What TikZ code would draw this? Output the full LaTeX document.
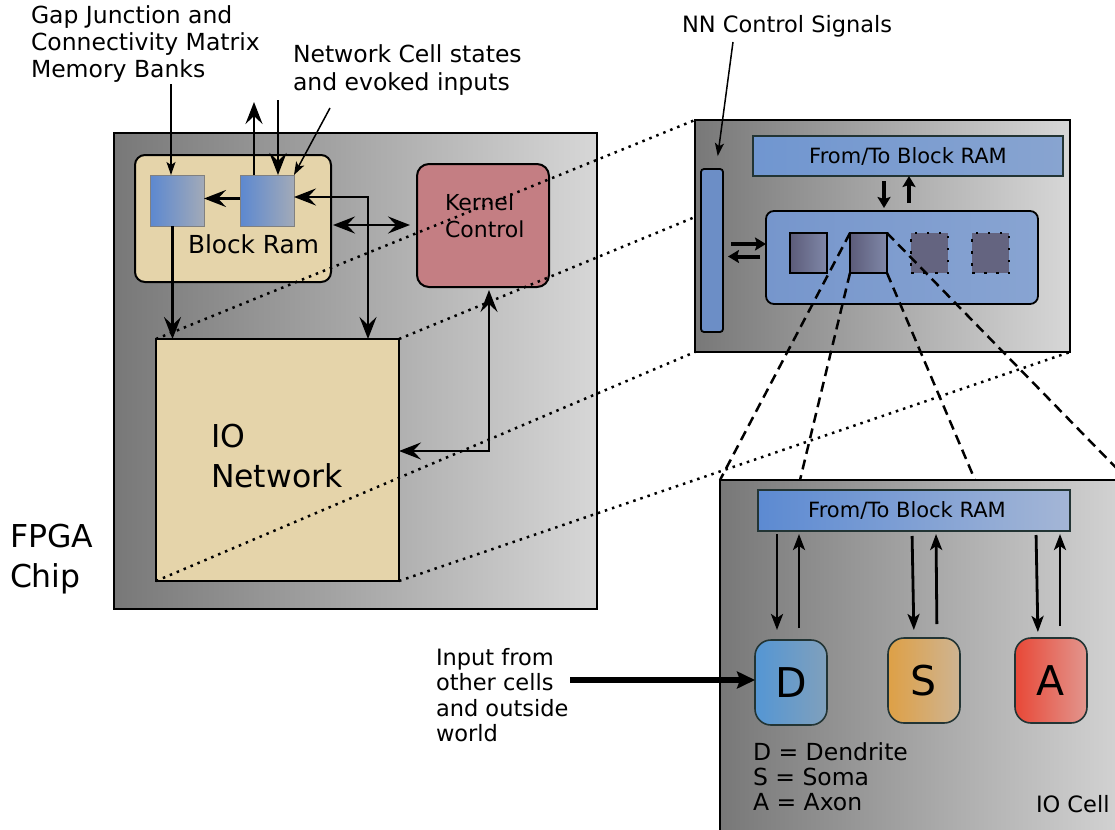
\documentclass[tikz,border=0pt]{standalone}
\usepackage{fontspec}
\setmainfont{DejaVu Sans}
\usetikzlibrary{arrows.meta}

\definecolor{chipL}{RGB}{120,120,120}
\definecolor{chipR}{RGB}{215,215,215}
\definecolor{tan}{RGB}{229,212,170}
\definecolor{kernel}{RGB}{196,126,131}
\definecolor{ramL}{RGB}{92,136,208}
\definecolor{ramR}{RGB}{162,170,184}
\definecolor{nnbar}{RGB}{108,142,198}
\definecolor{busL}{RGB}{112,150,208}
\definecolor{busR}{RGB}{136,164,208}
\definecolor{innerL}{RGB}{118,150,204}
\definecolor{innerR}{RGB}{136,164,210}
\definecolor{unitL}{RGB}{92,92,122}
\definecolor{unitR}{RGB}{128,136,168}
\definecolor{unitD}{RGB}{100,100,128}
\definecolor{cbusL}{RGB}{92,138,210}
\definecolor{cbusR}{RGB}{164,182,214}
\definecolor{dL}{RGB}{84,150,212}
\definecolor{dR}{RGB}{128,160,188}
\definecolor{sL}{RGB}{222,160,70}
\definecolor{sR}{RGB}{206,180,146}
\definecolor{aL}{RGB}{232,72,55}
\definecolor{aR}{RGB}{226,150,142}
\definecolor{edge}{RGB}{34,52,52}

\begin{document}
\begin{tikzpicture}[x=1bp,y=-1bp,
  panel/.style={draw=black, line width=2bp, left color=chipL, right color=chipR,
    inner sep=0pt, outer sep=0pt, anchor=north west},
  membox/.style={draw=black, line width=2bp, fill=tan, inner sep=0pt, outer sep=0pt, anchor=north west},
  ramcell/.style={draw=gray, line width=1bp, left color=ramL, right color=ramR,
    inner sep=0pt, outer sep=0pt, anchor=north west, minimum width=54bp, minimum height=51bp},
  kbox/.style={draw=black, line width=2bp, fill=kernel, rounded corners=12bp,
    inner sep=0pt, outer sep=0pt, anchor=north west},
  bluebox/.style={draw=edge, line width=1.8bp, inner sep=0pt, outer sep=0pt, anchor=north west},
  unit/.style={draw=black, line width=2.2bp, left color=unitL, right color=unitR,
    inner sep=0pt, outer sep=0pt, anchor=north west, minimum width=37bp, minimum height=40bp},
  ghost/.style={draw=black, line width=2.5bp, dash pattern=on 2.5bp off 9.5bp, fill=unitD,
    inner sep=0pt, outer sep=0pt, anchor=north west, minimum width=37bp, minimum height=40bp},
  compart/.style={draw=edge, line width=1.6bp, rounded corners=16bp, inner sep=0pt, outer sep=0pt,
    anchor=north west, minimum width=72bp, minimum height=85bp,
    font=\fontsize{41bp}{45bp}\selectfont},
  lbl/.style={inner sep=0pt, outer sep=0pt, anchor=base west, font=\fontsize{22.5bp}{27bp}\selectfont},
  toplbl/.style={lbl, font=\fontsize{23.5bp}{28bp}\selectfont},
  biglbl/.style={lbl, font=\fontsize{31.5bp}{38bp}\selectfont},
  buslbl/.style={inner sep=0pt, font=\fontsize{21bp}{25bp}\selectfont},
  flow/.style={line width=2.5bp, -{Stealth[length=22bp,width=17bp,inset=8bp]}},
  flowboth/.style={line width=2.5bp, {Stealth[length=22bp,width=17bp,inset=8bp]}-{Stealth[length=22bp,width=17bp,inset=8bp]}},
  pointer/.style={line width=1.5bp, -{Stealth[length=13bp,width=9bp,inset=3bp]}},
  fat/.style={line width=4bp, -{Stealth[length=11bp,width=13bp,inset=2bp]}},
  cellflow/.style={line width=2.8bp, -{Stealth[length=16bp,width=12bp,inset=4bp]}},
  inflow/.style={line width=6bp, -{Stealth[length=18bp,width=17bp,inset=3bp]}},
  proj/.style={line width=2.5bp, dash pattern=on 2.5bp off 5bp},
  zoomline/.style={line width=2.5bp, dash pattern=on 10bp off 6bp}]

\useasboundingbox (0,0) rectangle (1115,830);
\clip (0,0) rectangle (1115,830);
\fill[white] (0,0) rectangle (1115,830);

% ---------------- FPGA chip ----------------
\node[panel, minimum width=483bp, minimum height=476bp] (fpga) at (114,133) {};
\node[biglbl] (fpga1) at (10,547) {FPGA};
\node[biglbl] (fpga2) at (10,587) {Chip};

\node[membox, rounded corners=10bp, minimum width=196bp, minimum height=127bp] (ram) at (135,155) {};
\node[ramcell] (gj) at (150,175) {};
\node[ramcell] (cs) at (240,175) {};
\node[lbl, font=\fontsize{24.8bp}{29bp}\selectfont] (ramlbl) at (188,253) {Block Ram};

\node[kbox, minimum width=132bp, minimum height=123bp] (kernel) at (417,164) {};
\node[lbl, font=\fontsize{22bp}{26bp}\selectfont] (k1) at (445,210) {Kernel};
\node[lbl, font=\fontsize{22bp}{26bp}\selectfont] (k2) at (445,237) {Control};

\node[membox, minimum width=243bp, minimum height=242bp] (ionet) at (156,339) {};
\node[biglbl] (io1) at (211,447) {IO};
\node[biglbl] (io2) at (211,487) {Network};

% labels above the chip
\node[toplbl] (gap1) at (31,23) {Gap Junction and};
\node[toplbl] (gap2) at (31,50) {Connectivity Matrix};
\node[toplbl] (gap3) at (31,77) {Memory Banks};
\node[toplbl] (ncs1) at (293,62) {Network Cell states};
\node[toplbl] (ncs2) at (293,90) {and evoked inputs};

\coordinate (gjtail) at (171,84);
\coordinate (uptop) at (254,102);
\coordinate (downtop) at (278,100);
\coordinate (nctail) at (330,108);

\draw[pointer] (gjtail) -- (gjtail |- gj.north);
\draw[flow] (cs.north -| uptop) -- (uptop);
\draw[flow] (downtop) -- (downtop |- cs.north);
\draw[pointer] (nctail) -- (cs.north east);

\draw[flow] ([yshift=2bp]cs.west) -- ([yshift=2bp]gj.east);
\draw[flowboth] ([yshift=3.5bp]cs.east) -| ([xshift=90.5bp]ionet.north);
\draw[flowboth, shorten >=7bp, shorten <=2bp] ([yshift=-6.5bp]ram.east) -- ([yshift=-6.5bp]ram.east -| kernel.west);
\draw[flow] ([xshift=-4.5bp]gj.south) -- ([xshift=-4.5bp]gj.south |- ionet.north);
\draw[flowboth, shorten <=3bp] ([xshift=6bp]kernel.south) |- ([yshift=9bp]ionet.east);

% ---------------- NN block ----------------
\node[panel, minimum width=375bp, minimum height=232bp] (nn) at (695,120) {};
\node[bluebox, draw=black, fill=nnbar, rounded corners=3bp, minimum width=22bp, minimum height=163bp] (nnbar) at (701,169) {};
\node[bluebox, left color=busL, right color=busR, minimum width=310bp, minimum height=40bp] (bus) at (753,136) {};
\node[buslbl] (buslbl) at (bus.center) {From/To Block RAM};
\node[bluebox, draw=black, left color=innerL, right color=innerR, rounded corners=8bp, minimum width=272bp, minimum height=93bp] (inner) at (766,211) {};
\node[unit] (u1) at (790,233) {};
\node[unit] (u2) at (850,233) {};
\node[ghost] (u3) at (911,233) {};
\node[ghost] (u4) at (972,233) {};

\node[lbl] (nnlbl) at (682,32) {NN Control Signals};
\coordinate (nntail) at (733,42);
\draw[pointer, shorten >=13bp] (nntail) -- ([xshift=4bp]nnbar.north);

\draw[fat, shorten <=5bp, shorten >=3bp] ([xshift=-24bp]bus.south) -- ([xshift=-24bp]bus.south |- inner.north);
\draw[fat, shorten <=8bp] ([xshift=1bp]bus.south |- inner.north) -- ([xshift=1bp]bus.south);
\draw[fat, shorten <=8bp] ([yshift=13.5bp]inner.west -| nnbar.east) -- ([yshift=13.5bp]inner.west);
\draw[fat, shorten <=6bp, shorten >=5bp] ([yshift=1bp]inner.west) -- ([yshift=1bp]inner.west -| nnbar.east);

% projection of the IO network onto the NN block
\draw[proj] (ionet.north west) -- (nn.north west);
\draw[proj] (ionet.north east) -- ([yshift=-97bp]nn.north west);
\draw[proj] (ionet.south west) -- (nn.south west);
\draw[proj] (ionet.south east) -- (nn.south east);

% ---------------- IO cell ----------------
\node[panel, minimum width=420bp, minimum height=380bp] (cell) at (720,480) {};

\draw[zoomline] (u2.north west) -- (cell.north west);
\draw[zoomline] (u2.south west) -- ([xshift=80bp]cell.north west);
\draw[zoomline] (u2.south east) -- ([xshift=255bp]cell.north west);
\draw[zoomline] (u2.north east) -- ([xshift=408bp]cell.north west);
\draw[line width=2bp] (cell.north west) -- (cell.north east);

\node[bluebox, left color=cbusL, right color=cbusR, minimum width=312bp, minimum height=41bp] (cbus) at (758,490) {};
\node[buslbl] (cbuslbl) at ([xshift=-7bp]cbus.center) {From/To Block RAM};

\node[compart, left color=dL, right color=dR] (D) at (755,640) {D};
\node[compart, left color=sL, right color=sR] (S) at (888,638) {S};
\node[compart, left color=aL, right color=aR] (A) at (1015,638) {A};

\draw[cellflow, shorten <=3bp, shorten >=10bp] ([xshift=-14bp]D.north |- cbus.south) -- ([xshift=-14bp]D.north);
\draw[cellflow, shorten <=12bp, shorten >=3bp] ([xshift=8bp]D.north) -- ([xshift=8bp]D.north |- cbus.south);
\draw[cellflow, shorten <=5bp, shorten >=8bp] ([xshift=-12bp]S.north |- cbus.south) -- ([xshift=-10bp]S.north);
\draw[cellflow, shorten <=14bp, shorten >=3bp] ([xshift=13bp]S.north) -- ([xshift=12bp]S.north |- cbus.south);
\draw[cellflow, shorten <=4bp, shorten >=6bp] ([xshift=-15bp]A.north |- cbus.south) -- ([xshift=-13bp]A.north);
\draw[cellflow, shorten <=12bp, shorten >=3bp] ([xshift=9bp]A.north) -- ([xshift=9bp]A.north |- cbus.south);

\node[toplbl] (leg1) at (753,760) {D = Dendrite};
\node[toplbl] (leg2) at (753,785) {S = Soma};
\node[toplbl] (leg3) at (753,810) {A = Axon};
\node[lbl] (celllbl) at (1036,812) {IO Cell};

\node[lbl] (in1) at (436,665) {Input from};
\node[lbl] (in2) at (436,690) {other cells};
\node[lbl] (in3) at (436,716) {and outside};
\node[lbl] (in4) at (436,741) {world};
\coordinate (intail) at (570,680);
\draw[inflow] (intail) -- (intail -| D.west);

\end{tikzpicture}
\end{document}
